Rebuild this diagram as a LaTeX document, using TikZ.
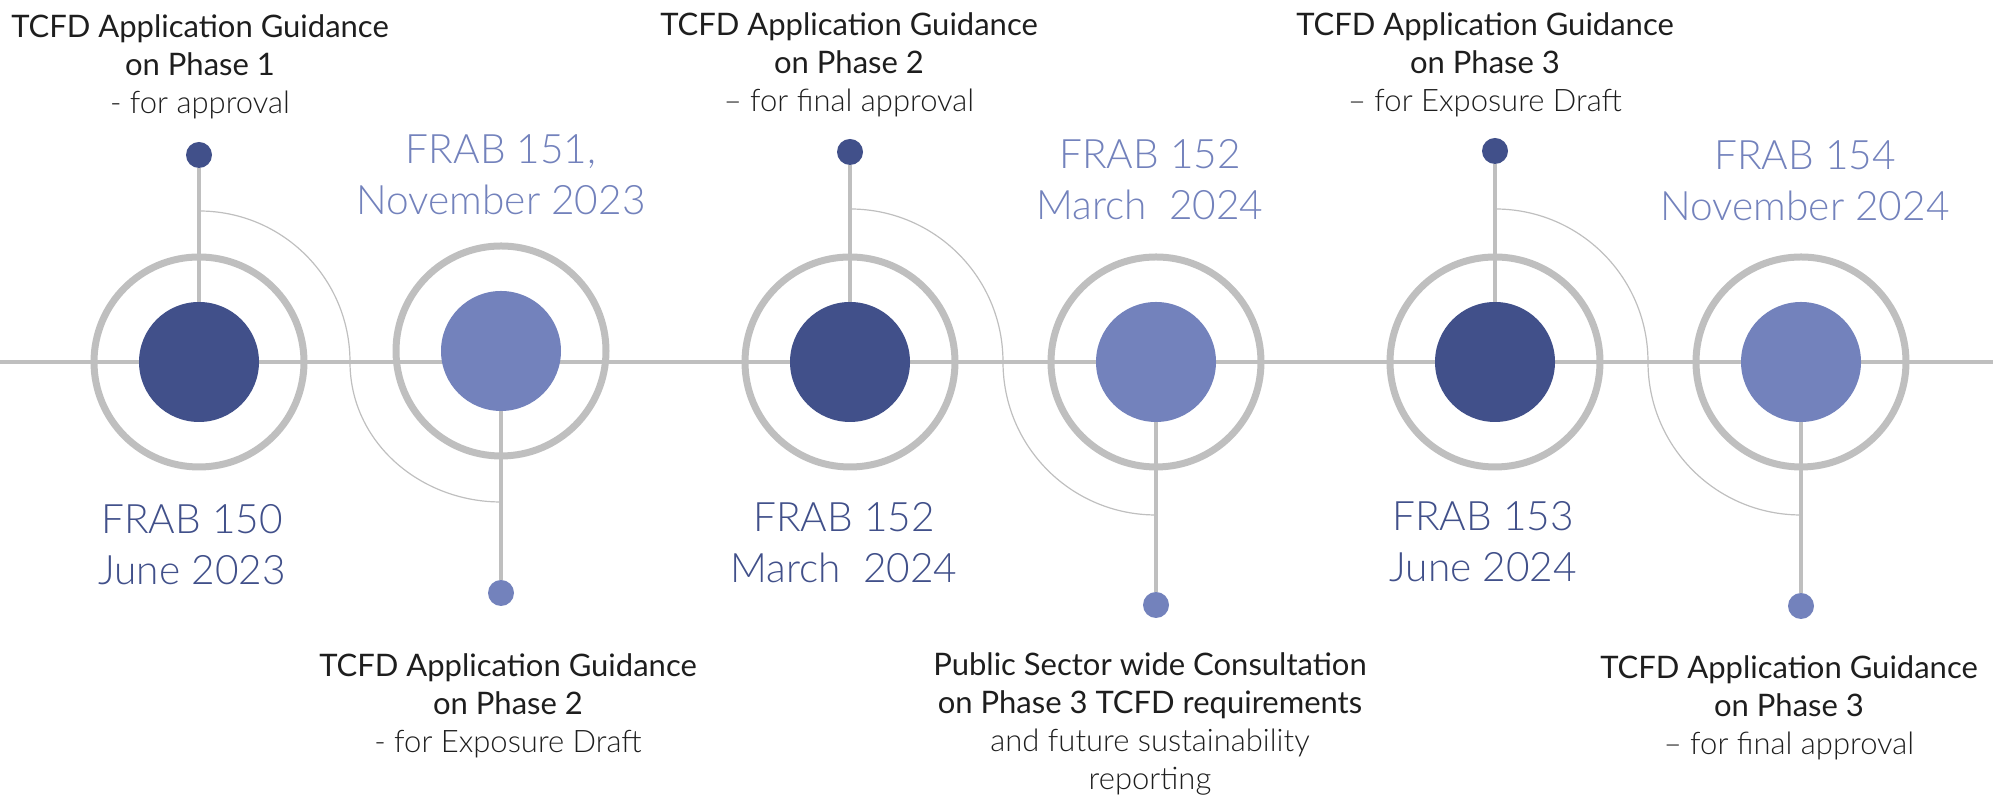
\documentclass[tikz,border=0pt]{standalone}
\usepackage{fontspec}
\setmainfont{Lato}
\newfontfamily\thinfont{Lato Light}
\usepackage{tikz}
\usetikzlibrary{positioning}
\definecolor{navy}{HTML}{41508A}
\definecolor{lilac}{HTML}{7382BC}
\definecolor{rim}{HTML}{BFBFBF}
\definecolor{ink}{HTML}{1E1E1E}
\tikzset{
    ring/.style={circle, draw=rim, line width=3.5pt, minimum size=105pt, inner sep=0pt},
    hub/.style={circle, fill=#1, minimum size=60pt, inner sep=0pt},
    knob/.style={circle, fill=#1, minimum size=13pt, inner sep=0pt},
    stem/.style={draw=rim, line width=1.6pt},
    wire/.style={draw=rim, line width=.6pt},
    guide/.style={align=center, text=ink, inner sep=0pt, anchor=north, font=\fontsize{15.5}{19}\selectfont},
    frab/.style={align=center, text=#1, inner sep=0pt, anchor=north, font=\thinfont\fontsize{20.3}{25.5}\selectfont}
}
\begin{document}
\begin{tikzpicture}[x=.5pt, y=.5pt]
    \useasboundingbox (0,0) rectangle (1993,795);
    \coordinate (west) at (0,433);
    \coordinate (east) at (1993,433);
    \draw[stem] (west)--(east);

\foreach \n/\x/\y/\c in {1/199/433/navy, 2/501/444/lilac, 3/850/433/navy, 4/1156/433/lilac, 5/1495/433/navy, 6/1801/433/lilac}
{
    \node (r\n) at (\x,\y) [ring]{};
    \node (c\n) at (\x,\y) [hub=\c]{};
}
\foreach \n/\x/\y/\c in {1/199/640/navy, 2/501/202/lilac, 3/850/643/navy, 4/1156/190/lilac, 5/1495/644/navy, 6/1801/189/lilac}
{
    \node (k\n) at (\x,\y) [knob=\c]{};
    \draw[stem] (k\n)--(c\n);
}

    \coordinate (s1) at (199,584);
    \coordinate (m1) at (350,433);
    \coordinate (e1) at (501,293);
    \coordinate (s2) at (850,586);
    \coordinate (m2) at (1003,433);
    \coordinate (e2) at (1156,280);
    \coordinate (s3) at (1495,586);
    \coordinate (m3) at (1648,433);
    \coordinate (e3) at (1801,280);
\foreach \n in {1,2,3}
{
    \draw[wire] (s\n) to[out=0,in=90] (m\n) to[out=-90,in=180] (e\n);
}

\node (g1) at (200,781)[guide]{TCFD Application Guidance\\on Phase 1\\{\thinfont - for approval}};
\node (g3) at (849,783)[guide]{TCFD Application Guidance\\on Phase 2\\{\thinfont – for final approval}};
\node (g5) at (1485,783)[guide]{TCFD Application Guidance\\on Phase 3\\{\thinfont – for Exposure Draft}};
\node (g2) at (508,142)[guide]{TCFD Application Guidance\\on Phase 2\\{\thinfont - for Exposure Draft}};
\node (g4) at (1150,143)[guide]{Public Sector wide Consultation\\on Phase 3 TCFD requirements\\{\thinfont and future sustainability}\\{\thinfont reporting}};
\node (g6) at (1789,140)[guide]{TCFD Application Guidance\\on Phase 3\\{\thinfont – for final approval}};

\node (f1) at (192,291)[frab=navy]{FRAB 150\\June 2023};
\node (f2) at (501,661)[frab=lilac]{FRAB 151,\\November 2023};
\node (f3) at (844,293)[frab=navy]{FRAB 152\\March\ \ 2024};
\node (f4) at (1150,656)[frab=lilac]{FRAB 152\\March\ \ 2024};
\node (f5) at (1483,294)[frab=navy]{FRAB 153\\June 2024};
\node (f6) at (1805,655)[frab=lilac]{FRAB 154\\November 2024};

\end{tikzpicture}
\end{document}
